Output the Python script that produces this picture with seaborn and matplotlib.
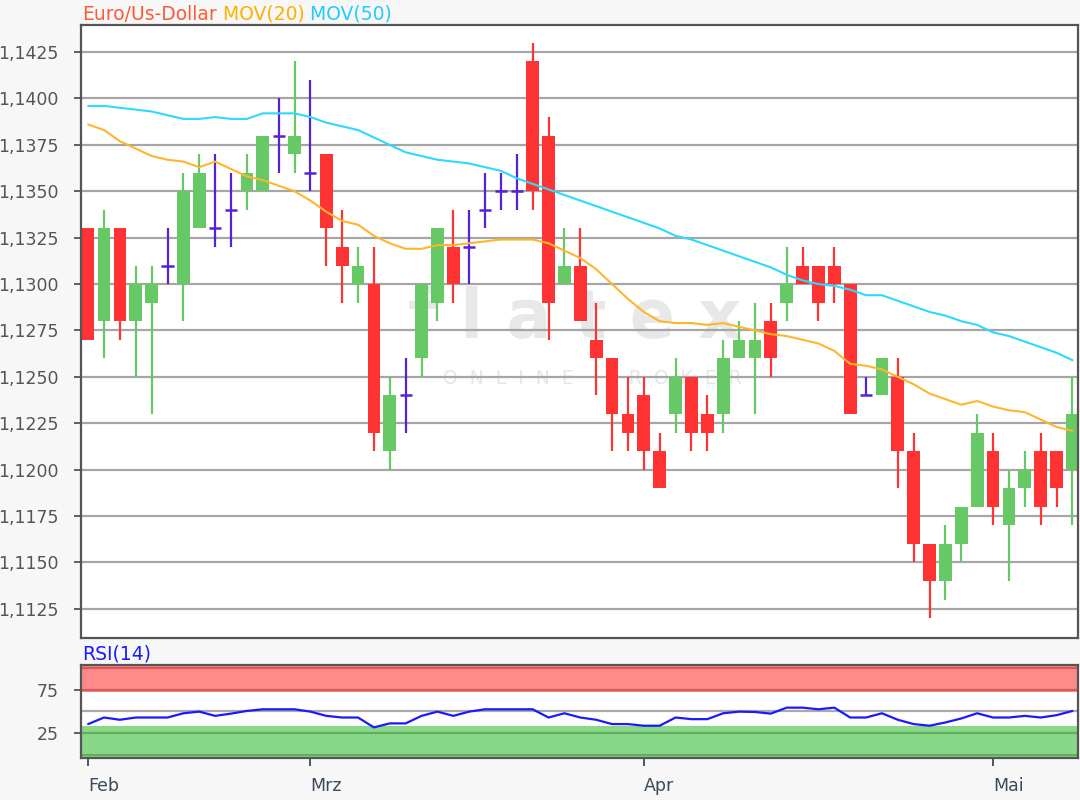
"""EUR/USD Tageskerzen mit MOV(20), MOV(50) und RSI(14)."""

import matplotlib.pyplot as plt
import numpy as np
import pandas as pd
import seaborn as sns

open_ = [1.1330, 1.1280, 1.1330, 1.1280, 1.1290, 1.1310, 1.1300, 1.1330, 1.1330, 1.1340,
         1.1350, 1.1350, 1.1380, 1.1370, 1.1360, 1.1370, 1.1320, 1.1300, 1.1300, 1.1210,
         1.1240, 1.1260, 1.1290, 1.1320, 1.1320, 1.1340, 1.1350, 1.1350, 1.1420, 1.1380,
         1.1300, 1.1310, 1.1270, 1.1260, 1.1230, 1.1240, 1.1210, 1.1230, 1.1250, 1.1230,
         1.1230, 1.1260, 1.1260, 1.1280, 1.1290, 1.1310, 1.1310, 1.1310, 1.1300, 1.1240,
         1.1240, 1.1250, 1.1210, 1.1160, 1.1140, 1.1160, 1.1180, 1.1210, 1.1170, 1.1190,
         1.1210, 1.1210, 1.1200]
high = [1.1330, 1.1340, 1.1330, 1.1310, 1.1310, 1.1330, 1.1360, 1.1370, 1.1370, 1.1360,
        1.1370, 1.1380, 1.1400, 1.1420, 1.1410, 1.1370, 1.1340, 1.1320, 1.1320, 1.1250,
        1.1260, 1.1300, 1.1330, 1.1340, 1.1340, 1.1360, 1.1360, 1.1370, 1.1430, 1.1390,
        1.1330, 1.1330, 1.1290, 1.1260, 1.1250, 1.1250, 1.1220, 1.1260, 1.1250, 1.1240,
        1.1270, 1.1280, 1.1290, 1.1290, 1.1320, 1.1320, 1.1310, 1.1320, 1.1300, 1.1250,
        1.1260, 1.1260, 1.1220, 1.1160, 1.1170, 1.1180, 1.1230, 1.1220, 1.1200, 1.1210,
        1.1220, 1.1210, 1.1250]
low = [1.1270, 1.1260, 1.1270, 1.1250, 1.1230, 1.1300, 1.1280, 1.1330, 1.1320, 1.1320,
       1.1340, 1.1350, 1.1360, 1.1360, 1.1350, 1.1310, 1.1290, 1.1290, 1.1210, 1.1200,
       1.1220, 1.1250, 1.1280, 1.1290, 1.1300, 1.1330, 1.1340, 1.1340, 1.1340, 1.1270,
       1.1300, 1.1280, 1.1240, 1.1210, 1.1210, 1.1200, 1.1190, 1.1220, 1.1210, 1.1210,
       1.1220, 1.1260, 1.1230, 1.1250, 1.1280, 1.1300, 1.1280, 1.1290, 1.1230, 1.1240,
       1.1240, 1.1190, 1.1150, 1.1120, 1.1130, 1.1150, 1.1180, 1.1170, 1.1140, 1.1180,
       1.1170, 1.1180, 1.1170]
close = [1.1270, 1.1330, 1.1280, 1.1300, 1.1300, 1.1310, 1.1350, 1.1360, 1.1330, 1.1340,
         1.1360, 1.1380, 1.1380, 1.1380, 1.1360, 1.1330, 1.1310, 1.1310, 1.1220, 1.1240,
         1.1240, 1.1300, 1.1330, 1.1300, 1.1320, 1.1340, 1.1350, 1.1350, 1.1350, 1.1290,
         1.1310, 1.1280, 1.1260, 1.1230, 1.1220, 1.1210, 1.1190, 1.1250, 1.1220, 1.1220,
         1.1260, 1.1270, 1.1270, 1.1260, 1.1300, 1.1300, 1.1290, 1.1300, 1.1230, 1.1240,
         1.1260, 1.1210, 1.1160, 1.1140, 1.1160, 1.1180, 1.1220, 1.1180, 1.1190, 1.1200,
         1.1180, 1.1190, 1.1230]

mov20 = [1.1386, 1.1383, 1.1377, 1.1373, 1.1369, 1.1367, 1.1366, 1.1363, 1.1366, 1.1362,
         1.1358, 1.1356, 1.1353, 1.1350, 1.1345, 1.1339, 1.1334, 1.1332, 1.1326, 1.1322,
         1.1319, 1.1319, 1.1321, 1.1321, 1.1322, 1.1323, 1.1324, 1.1324, 1.1324, 1.1322,
         1.1318, 1.1314, 1.1308, 1.1300, 1.1292, 1.1285, 1.1280, 1.1279, 1.1279, 1.1278,
         1.1279, 1.1277, 1.1275, 1.1273, 1.1272, 1.1270, 1.1268, 1.1264, 1.1257, 1.1256,
         1.1254, 1.1250, 1.1246, 1.1241, 1.1238, 1.1235, 1.1237, 1.1234, 1.1232, 1.1231,
         1.1227, 1.1223, 1.1221]
mov50 = [1.1396, 1.1396, 1.1395, 1.1394, 1.1393, 1.1391, 1.1389, 1.1389, 1.1390, 1.1389,
         1.1389, 1.1392, 1.1392, 1.1392, 1.1390, 1.1387, 1.1385, 1.1383, 1.1379, 1.1375,
         1.1371, 1.1369, 1.1367, 1.1366, 1.1365, 1.1363, 1.1361, 1.1357, 1.1354, 1.1351,
         1.1348, 1.1345, 1.1342, 1.1339, 1.1336, 1.1333, 1.1330, 1.1326, 1.1324, 1.1321,
         1.1318, 1.1315, 1.1312, 1.1309, 1.1305, 1.1302, 1.1300, 1.1299, 1.1297, 1.1294,
         1.1294, 1.1291, 1.1288, 1.1285, 1.1283, 1.1280, 1.1278, 1.1274, 1.1272, 1.1269,
         1.1266, 1.1263, 1.1259]
rsi14 = [35.2, 42.8, 40.2, 42.8, 42.8, 42.8, 47.7, 49.6, 44.7, 47.3,
         50.4, 52.3, 52.3, 52.3, 49.6, 44.7, 42.8, 42.8, 31.4, 36.0,
         36.0, 44.7, 49.6, 44.7, 49.6, 52.3, 52.3, 52.3, 52.3, 42.8,
         47.7, 42.8, 40.2, 35.2, 35.2, 33.3, 33.3, 42.8, 40.9, 40.9,
         47.7, 49.6, 49.2, 47.3, 54.2, 54.2, 52.3, 54.2, 42.8, 42.8,
         47.7, 40.2, 35.2, 33.3, 37.1, 41.7, 47.7, 42.8, 42.8, 44.7,
         42.8, 45.5, 50.4]

month_pos = [0, 14, 35, 57]
month_labels = ["Feb", "Mrz", "Apr", "Mai"]
price_ticks = [1.1125, 1.1150, 1.1175, 1.1200, 1.1225, 1.1250, 1.1275,
               1.1300, 1.1325, 1.1350, 1.1375, 1.1400, 1.1425]
rsi_ticks = [25, 75]

# === Farben ===
RED = "#ff3333"
GREEN = "#66c966"
PURPLE = "#5522d8"
ORANGE = "#ffb52e"
CYAN = "#2ed8ff"
SPINE = "#555555"
GRID = "#a6a6a6"
BG = "#f7f7f7"

sns.set_theme(style="white")
plt.rcParams["font.family"] = ["DejaVu Sans"]

df = pd.DataFrame({"open": open_, "high": high, "low": low, "close": close,
                   "mov20": mov20, "mov50": mov50, "rsi": rsi14})
df["idx"] = np.arange(len(df))
df["color"] = np.where(df["close"] > df["open"], GREEN,
                       np.where(df["close"] < df["open"], RED, PURPLE))

W, H = 1080, 800
fig = plt.figure(figsize=(W / 100, H / 100), dpi=100, facecolor=BG)
ax = fig.add_axes([81 / W, 1 - 638 / H, 997 / W, 613 / H])
rsi_ax = fig.add_axes([81 / W, 1 - 758 / H, 997 / W, 93 / H], sharex=ax)

# === Kerzen ===
ax.vlines(df["idx"], df["low"], df["high"], colors=df["color"], linewidth=1.6, zorder=3)
body_bottom = df[["open", "close"]].min(axis=1)
body_height = (df["close"] - df["open"]).abs()
ax.bar(df["idx"], body_height, bottom=body_bottom, width=0.8,
       color=df["color"], linewidth=0, zorder=4)
doji = df[df["close"] == df["open"]]
ax.hlines(doji["open"], doji["idx"] - 0.38, doji["idx"] + 0.38,
          colors=PURPLE, linewidth=1.8, zorder=4)

sns.lineplot(data=df, x="idx", y="mov20", color=ORANGE, linewidth=1.5, ax=ax, zorder=5)
sns.lineplot(data=df, x="idx", y="mov50", color=CYAN, linewidth=1.5, ax=ax, zorder=5)

# Wasserzeichen
ax.text(0.495, 0.52, "f l a t e x", transform=ax.transAxes, ha="center", va="center",
        fontsize=48, fontweight="bold", color="#e8e8e8", zorder=0.3)
ax.text(0.513, 0.424, "O  N  L  I  N  E     B  R  O  K  E  R", transform=ax.transAxes,
        ha="center", va="center", fontsize=13.5, color="#e6e6e6", zorder=0.3)

ax.set_xlim(-0.45, 62.35)
ax.set_ylim(1.11093, 1.14396)
ax.set_yticks(price_ticks)
ax.set_yticklabels([f"{v:.4f}".replace(".", ",") for v in price_ticks])
ax.set_axisbelow(True)
ax.yaxis.grid(True, color=GRID, linewidth=1.6)
ax.xaxis.grid(False)
ax.set_xlabel("")
ax.set_ylabel("")
ax.tick_params(axis="y", left=True, length=5, width=1.3, color=SPINE,
               labelcolor="#555555", labelsize=12.5, pad=11)
ax.tick_params(axis="x", bottom=False, labelbottom=False)

# === RSI ===
rsi_ax.axhspan(72, 104, color="#ff8a8a", lw=0, zorder=1)
rsi_ax.axhspan(-5, 33, color="#88d888", lw=0, zorder=1)
for lvl in (100, 75):
    rsi_ax.axhline(lvl, color="#d85a5a", lw=1.6, zorder=2)
for lvl in (25, 0):
    rsi_ax.axhline(lvl, color="#5faf5f", lw=1.6, zorder=2)
rsi_ax.axhline(50, color="#aaaaaa", lw=1.6, zorder=2)
sns.lineplot(data=df, x="idx", y="rsi", color="#1a1aff", linewidth=1.6, ax=rsi_ax, zorder=4)
rsi_ax.set_ylim(-4, 103.5)
rsi_ax.set_yticks(rsi_ticks)
rsi_ax.set_yticklabels([str(v) for v in rsi_ticks])
rsi_ax.set_xticks(month_pos)
rsi_ax.set_xticklabels(month_labels)
for lbl in rsi_ax.get_xticklabels():
    lbl.set_horizontalalignment("left")
rsi_ax.set_xlabel("")
rsi_ax.set_ylabel("")
rsi_ax.tick_params(axis="y", left=True, length=5, width=1.3, color=SPINE,
                   labelcolor="#555555", labelsize=12.5, pad=11)
rsi_ax.tick_params(axis="x", bottom=True, length=6, width=1.3, color="#3b4a5c",
                   labelcolor="#3b4a5c", labelsize=12.5, pad=8)

for a in (ax, rsi_ax):
    for sp in a.spines.values():
        sp.set_color(SPINE)
        sp.set_linewidth(1.6)
        sp.set_zorder(6)

# === Kopfzeilen ===
t1 = fig.text(82 / W, 1 - 14 / H, "Euro/Us-Dollar", color="#ff5a36", fontsize=13.5, va="center")
t2 = ax.annotate(" MOV(20)", xy=(1, 0), xycoords=t1, va="bottom", ha="left",
                 color="#ffb000", fontsize=13.5, annotation_clip=False)
ax.annotate(" MOV(50)", xy=(1, 0), xycoords=t2, va="bottom", ha="left",
            color="#22ccff", fontsize=13.5, annotation_clip=False)
fig.text(82 / W, 1 - 654 / H, "RSI(14)", color="#1a1aff", fontsize=13.5, va="center")

fig.savefig("out.png", dpi=100, facecolor=fig.get_facecolor())
